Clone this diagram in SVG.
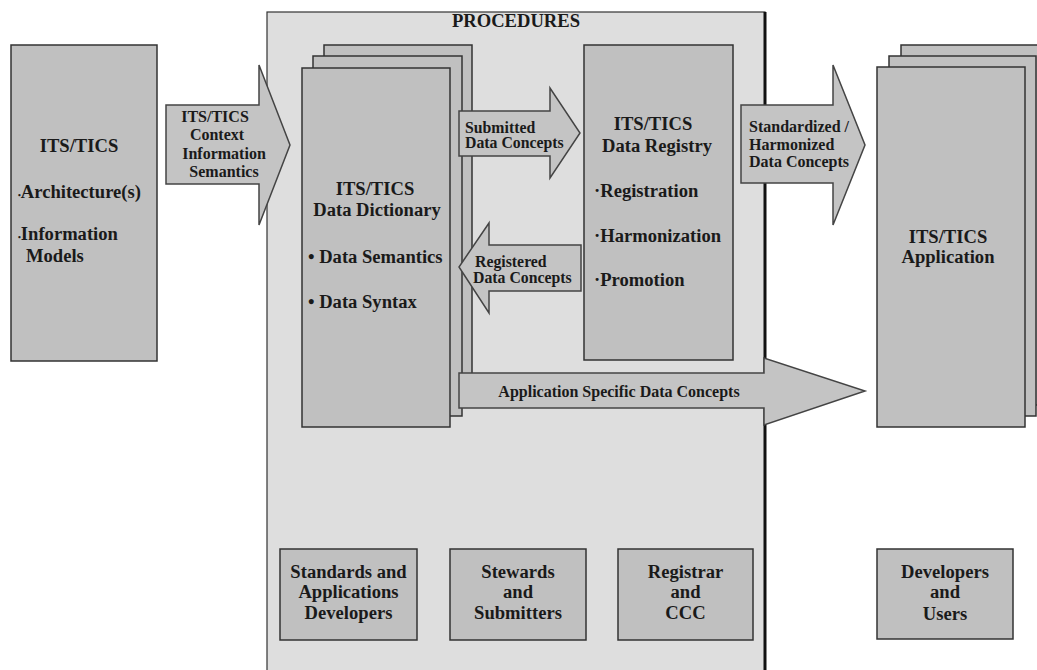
<svg xmlns="http://www.w3.org/2000/svg" width="1037" height="670" viewBox="0 0 1037 670">
<style>
text{font-family:"Liberation Serif","Times New Roman",serif;font-weight:bold;fill:#1a1a1a}
.t18{font-size:18.6px}
.t16{font-size:16px}
.t15{font-size:15.8px}
.c{text-anchor:middle}
.node{fill:#c0c0c0;stroke:#333;stroke-width:1.5}
.arrow{fill:#c4c4c4;stroke:#444;stroke-width:1.5;stroke-linejoin:miter}
</style>
<rect x="0" y="0" width="1037" height="670" fill="#fff"/>
<g id="procedures">
<rect x="267" y="12" width="498" height="700" fill="#dedede" stroke="#333" stroke-width="1.2"/>
<line x1="765" y1="12" x2="765" y2="670" stroke="#111" stroke-width="3"/>
<text class="t18 c" x="516" y="27">PROCEDURES</text>
</g>
<g id="its-tics-architecture">
<rect class="node" x="11" y="45" width="146" height="316"/>
<text class="t18 c" x="79" y="152">ITS/TICS</text>
<text class="t18" x="18" y="198"><tspan font-size="8">•</tspan>Architecture(s)</text>
<text class="t18" x="18" y="240"><tspan font-size="8">•</tspan>Information</text>
<text class="t18" x="26" y="262">Models</text>
</g>
<g id="data-dictionary">
<rect class="node" x="324" y="45" width="148" height="360"/>
<rect class="node" x="313" y="56" width="149" height="360"/>
<rect class="node" x="302" y="68" width="148" height="359"/>
<text class="t18 c" x="375" y="195">ITS/TICS</text>
<text class="t18 c" x="377" y="216">Data Dictionary</text>
<text class="t18" x="308" y="263">• Data Semantics</text>
<text class="t18" x="308" y="308">• Data Syntax</text>
</g>
<g id="data-registry">
<rect class="node" x="584" y="45" width="149" height="315"/>
<text class="t18 c" x="653" y="130">ITS/TICS</text>
<text class="t18 c" x="657" y="152">Data Registry</text>
<text class="t18" x="594" y="197">·Registration</text>
<text class="t18" x="594" y="242">·Harmonization</text>
<text class="t18" x="594" y="286">·Promotion</text>
</g>
<g id="application">
<rect class="node" x="901" y="45" width="148" height="360"/>
<rect class="node" x="889" y="56" width="147" height="360"/>
<rect class="node" x="877" y="67" width="148" height="360"/>
<text class="t18 c" x="948" y="243">ITS/TICS</text>
<text class="t18 c" x="948" y="263">Application</text>
</g>
<g id="connectors">
<g id="context-arrow">
<polygon class="arrow" points="166,105 259,105 259,65 290,145 259,225 259,184 166,184"/>
<text class="t16 c" x="215" y="122">ITS/TICS</text>
<text class="t16 c" x="217" y="140">Context</text>
<text class="t16 c" x="224" y="159">Information</text>
<text class="t16 c" x="224" y="177">Semantics</text>
</g>
<g id="submitted-arrow">
<polygon class="arrow" points="459,111 550,111 550,88 580,133 550,178 550,156 459,156"/>
<text class="t15" x="465" y="133">Submitted</text>
<text class="t15" x="465" y="148">Data Concepts</text>
</g>
<g id="registered-arrow">
<polygon class="arrow" points="581,245 489,245 489,223 459,267 489,313 489,291 581,291"/>
<text class="t15" x="475" y="267">Registered</text>
<text class="t15" x="473" y="283">Data Concepts</text>
</g>
<g id="standardized-arrow">
<polygon class="arrow" points="741,105 833,105 833,65 865,145 833,225 833,183 741,183"/>
<text class="t16" x="749" y="132">Standardized /</text>
<text class="t16" x="749" y="150">Harmonized</text>
<text class="t16" x="749" y="167">Data Concepts</text>
</g>
<g id="app-specific-arrow">
<polygon class="arrow" points="459,373 764,373 764,358 865,391 764,425 764,408 459,408"/>
<text class="t16 c" x="619" y="397">Application Specific Data Concepts</text>
</g>
</g>
<g id="standards-developers">
<rect class="node" x="280" y="549" width="137" height="91"/>
<text class="t18 c" x="348.5" y="578">Standards and</text>
<text class="t18 c" x="348.5" y="598">Applications</text>
<text class="t18 c" x="348.5" y="619">Developers</text>
</g>
<g id="stewards-submitters">
<rect class="node" x="450" y="549" width="136" height="91"/>
<text class="t18 c" x="518" y="578">Stewards</text>
<text class="t18 c" x="518" y="598">and</text>
<text class="t18 c" x="518" y="619">Submitters</text>
</g>
<g id="registrar-ccc">
<rect class="node" x="618" y="549" width="135" height="91"/>
<text class="t18 c" x="685.5" y="578">Registrar</text>
<text class="t18 c" x="685.5" y="598">and</text>
<text class="t18 c" x="685.5" y="619">CCC</text>
</g>
<g id="developers-users">
<rect class="node" x="877" y="549" width="136" height="90"/>
<text class="t18 c" x="945" y="578">Developers</text>
<text class="t18 c" x="945" y="598">and</text>
<text class="t18 c" x="945" y="620">Users</text>
</g>
</svg>
